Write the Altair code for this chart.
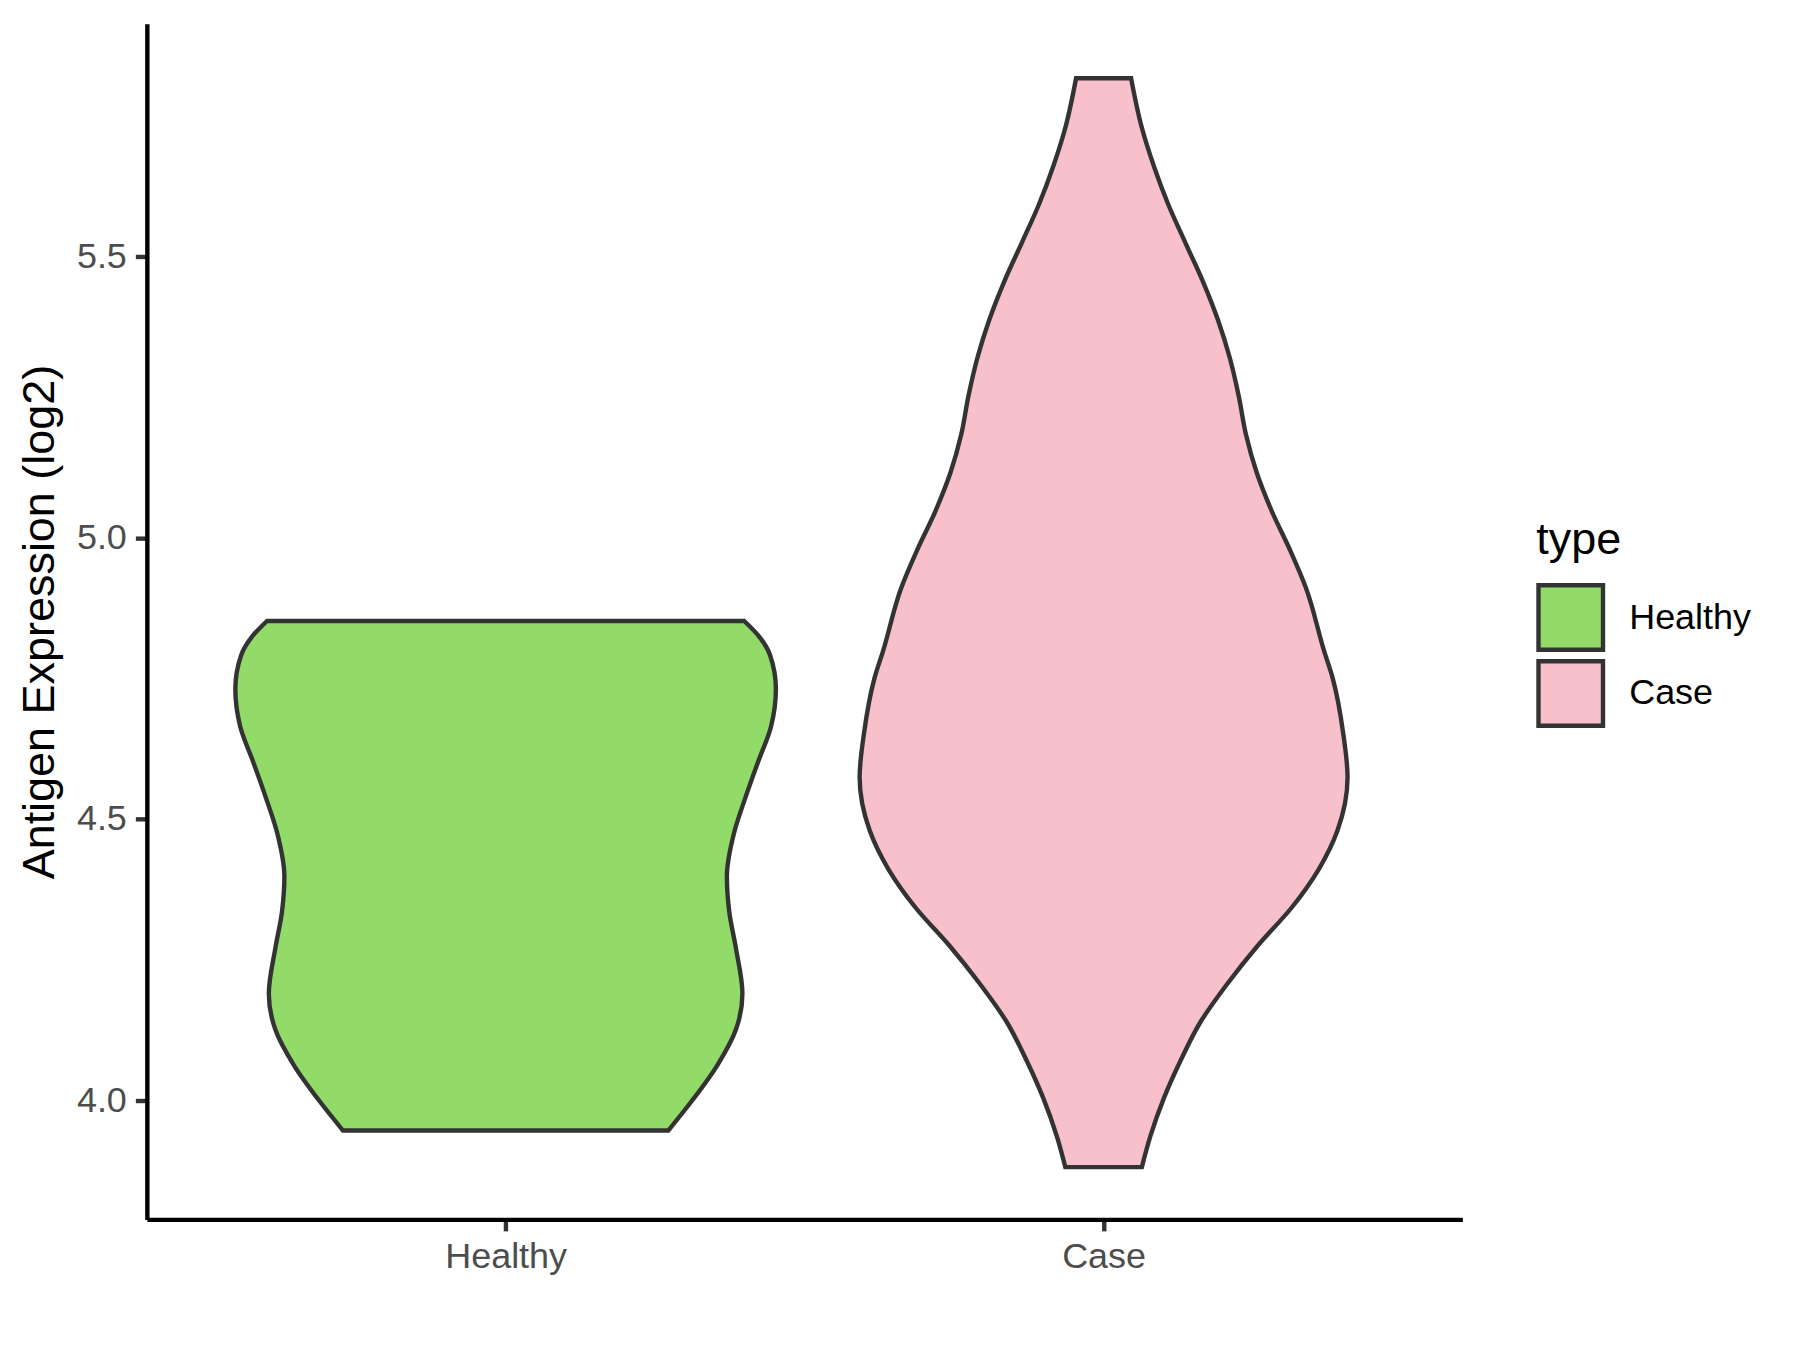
import altair as alt
import pandas as pd

# ---- data ----
categories = ["Healthy", "Case"]
fill_colors = ["#93DB69", "#F7C0CB"]

# violin outline: expression value (log2) and half-width (in category units)
healthy_y = [4.852, 4.823, 4.792, 4.731, 4.665, 4.601, 4.538, 4.475, 4.398,
             4.335, 4.271, 4.189, 4.125, 4.062, 3.998, 3.946]
healthy_hw = [0.399, 0.425, 0.442, 0.452, 0.444, 0.422, 0.401, 0.382, 0.370,
              0.374, 0.385, 0.396, 0.385, 0.354, 0.311, 0.272]

case_y = [5.817, 5.729, 5.661, 5.593, 5.524, 5.456, 5.388, 5.320, 5.252,
          5.184, 5.116, 5.048, 4.980, 4.912, 4.798, 4.751, 4.650, 4.574,
          4.479, 4.411, 4.343, 4.275, 4.207, 4.139, 4.071, 4.004, 3.935, 3.881]
case_hw = [0.046, 0.064, 0.084, 0.108, 0.137, 0.166, 0.191, 0.211, 0.226,
           0.238, 0.256, 0.281, 0.311, 0.338, 0.369, 0.383, 0.401, 0.408,
           0.391, 0.360, 0.315, 0.258, 0.207, 0.162, 0.129, 0.101, 0.078, 0.064]

y_ticks = [4.0, 4.5, 5.0, 5.5]
y_domain = [3.788, 5.914]

rows = []
for i, (cat, ys, hws) in enumerate([("Healthy", healthy_y, healthy_hw),
                                     ("Case", case_y, case_hw)]):
    for v, hw in zip(ys, hws):
        rows.append({"type": cat, "pos": i + 1, "value": v, "hw": hw})
df = pd.DataFrame(rows)

FONT = "Liberation Sans"
label_expr = " : ".join(
    [f"datum.value == {i + 1} ? '{c}'" for i, c in enumerate(categories[:-1])]
    + [f"'{categories[-1]}'"]
)

chart = (
    alt.Chart(df)
    .transform_calculate(lo="datum.pos - datum.hw", hi="datum.pos + datum.hw")
    .mark_area(orient="horizontal", interpolate="monotone", stroke="#333333",
               strokeWidth=4.4, fillOpacity=1, opacity=1)
    .encode(
        y=alt.Y("value:Q",
                scale=alt.Scale(domain=y_domain, nice=False, zero=False),
                axis=alt.Axis(values=y_ticks, format=".1f",
                              title="Antigen Expression (log2)",
                              grid=False, domainColor="black", domainWidth=4.4,
                              tickColor="#333333", tickWidth=4.4, tickSize=11.5,
                              labelColor="#4D4D4D", labelFontSize=36,
                              labelFont=FONT, labelPadding=9,
                              titleFont=FONT, titleFontSize=45,
                              titleColor="black", titleFontWeight="normal",
                              titlePadding=14)),
        x=alt.X("lo:Q",
                scale=alt.Scale(domain=[0.4, 2.6], nice=False, zero=False),
                axis=alt.Axis(values=[1, 2], labelExpr=label_expr, title=None,
                              grid=False, domainColor="black", domainWidth=4.4,
                              tickColor="#333333", tickWidth=4.4, tickSize=11.5,
                              labelColor="#4D4D4D", labelFontSize=36,
                              labelFont=FONT, labelPadding=9)),
        x2="hi:Q",
        fill=alt.Fill("type:N",
                      scale=alt.Scale(domain=categories, range=fill_colors),
                      legend=alt.Legend(title="type", orient="none",
                                        legendX=1391, legendY=495,
                                        titleFont=FONT, titleFontSize=45,
                                        titleColor="black",
                                        titleFontWeight="normal",
                                        titlePadding=20,
                                        labelFont=FONT, labelFontSize=36,
                                        labelColor="black", labelOffset=24,
                                        symbolType="square", symbolSize=4170,
                                        symbolStrokeColor="#333333",
                                        symbolStrokeWidth=4.4,
                                        symbolOpacity=1,
                                        rowPadding=-12, padding=0)),
    )
    .properties(width=1317, height=1197, background="white",
                autosize=alt.AutoSizeParams(type="none"),
                padding={"left": 139, "top": 15, "right": 330, "bottom": 110})
    .configure_view(stroke="transparent", strokeWidth=0)
)

chart.save("out.html", embed_options={"renderer": "svg", "actions": False})
